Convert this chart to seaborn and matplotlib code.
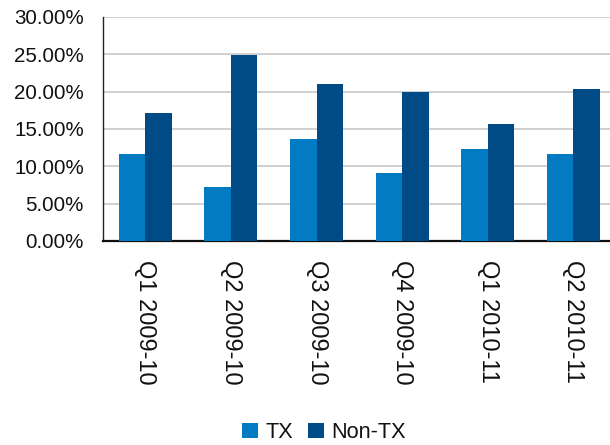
import matplotlib
matplotlib.use("Agg")
import matplotlib.pyplot as plt
from matplotlib.ticker import PercentFormatter, MultipleLocator
import seaborn as sns
import pandas as pd

# Quarterly rates (%) by group
quarters = ["Q1 2009-10", "Q2 2009-10", "Q3 2009-10", "Q4 2009-10", "Q1 2010-11", "Q2 2010-11"]
tx_values = [11.65, 7.25, 13.7, 9.1, 12.3, 11.65]
non_tx_values = [17.15, 24.95, 21.05, 19.95, 15.65, 20.4]
series_names = ["TX", "Non-TX"]
colors = ["#027bc3", "#004a85"]

df = pd.DataFrame({
    "quarter": quarters * 2,
    "rate": tx_values + non_tx_values,
    "group": [series_names[0]] * len(quarters) + [series_names[1]] * len(quarters),
})

sns.set_style("white")
plt.rcParams["font.family"] = ["Liberation Sans", "DejaVu Sans"]

fig = plt.figure(figsize=(6.10, 4.45), dpi=100)
ax = fig.add_axes([102.5 / 610, 1 - 241 / 445, 513.6 / 610, 224 / 445])

sns.barplot(data=df, x="quarter", y="rate", hue="group", order=quarters,
            hue_order=series_names, palette=colors, width=0.62, gap=0,
            saturation=1, linewidth=0, ax=ax, legend=True, zorder=3)

ax.set_xlim(-0.5, len(quarters) - 0.5)
ax.set_ylim(0, 30)
ax.yaxis.set_major_locator(MultipleLocator(5))
ax.yaxis.set_major_formatter(PercentFormatter(decimals=2))
ax.grid(axis="y", color="#c8c8c8", linewidth=1.2, zorder=0)
ax.set_axisbelow(True)
ax.set_xlabel("")
ax.set_ylabel("")

for side in ["top", "right"]:
    ax.spines[side].set_visible(False)
ax.spines["left"].set_color("#222222")
ax.spines["left"].set_linewidth(1.0)
ax.spines["bottom"].set_color("#111111")
ax.spines["bottom"].set_linewidth(1.6)

ax.tick_params(axis="y", length=0, pad=13.5, labelsize=14.8, labelcolor="#111111")
ax.tick_params(axis="x", length=0, pad=13.5, labelsize=17, labelcolor="#111111")
for lbl in ax.get_xticklabels():
    lbl.set_rotation(-90)
    lbl.set_va("top")
    lbl.set_ha("center")

handles, labels = ax.get_legend_handles_labels()
ax.get_legend().remove()
fig.legend(handles, labels, loc="lower center", bbox_to_anchor=(324 / 610, -0.02),
           ncol=2, frameon=False, fontsize=15.6, handlelength=0.7, handleheight=0.7,
           handletextpad=0.35, columnspacing=0.72, borderpad=0, labelcolor="#111111")

fig.savefig("out.png", dpi=100)
